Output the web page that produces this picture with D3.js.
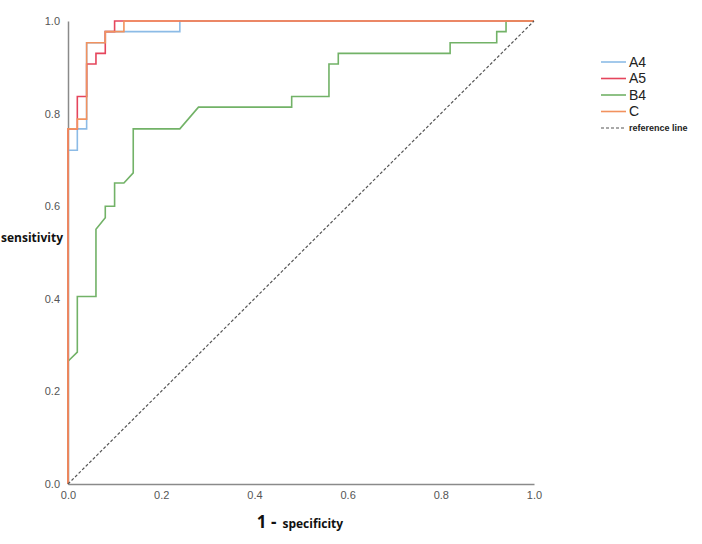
<!DOCTYPE html>
<html>
<head>
<meta charset="utf-8">
<script src="https://cdn.jsdelivr.net/npm/d3@7"></script>
<style>
  body { margin: 0; background: #fff; }
  svg { font-family: Arial, "Liberation Sans", sans-serif; }
</style>
</head>
<body>
<div id="chart"></div>
<script>
// ROC points (1 - specificity, sensitivity)
var a4Fpr  = [0, 0,     0.02,  0.02,  0.04,  0.04,  0.08,  0.08,  0.24,  0.24, 1];
var a4Tpr  = [0, 0.721, 0.721, 0.767, 0.767, 0.953, 0.953, 0.977, 0.977, 1,    1];

var a5Fpr  = [0, 0,     0.02,  0.02,  0.04,  0.04,  0.06,  0.06, 0.08, 0.08,  0.10,  0.10, 1];
var a5Tpr  = [0, 0.767, 0.767, 0.837, 0.837, 0.907, 0.907, 0.93, 0.93, 0.977, 0.977, 1,    1];

var b4Fpr  = [0, 0,     0.02,  0.02,  0.06,  0.06, 0.08,  0.08, 0.10, 0.10, 0.12, 0.14,  0.14,  0.24,  0.28,  0.48,  0.48,  0.56,  0.56,  0.58,  0.58, 0.82, 0.82,  0.92,  0.92,  0.94,  0.94, 1];
var b4Tpr  = [0, 0.265, 0.285, 0.405, 0.405, 0.55, 0.575, 0.60, 0.60, 0.65, 0.65, 0.672, 0.767, 0.767, 0.814, 0.814, 0.837, 0.837, 0.907, 0.907, 0.93, 0.93, 0.953, 0.953, 0.977, 0.977, 1,    1];

var cFpr   = [0, 0,     0.02,  0.02,  0.04,  0.04,  0.08,  0.08,  0.12,  0.12, 1];
var cTpr   = [0, 0.767, 0.767, 0.788, 0.788, 0.953, 0.953, 0.977, 0.977, 1,    1];

var seriesNames = ["A4", "A5", "B4", "C"];
var tickValues = [0, 0.2, 0.4, 0.6, 0.8, 1.0];

var colors = { A4: "#8cbbe6", A5: "#e5455c", B4: "#72b267", C: "#f2925e" };

var w = 702, h = 544;
var svg = d3.select("#chart").append("svg")
  .attr("width", w)
  .attr("height", h);

var x = d3.scaleLinear().domain([0, 1]).range([68, 534]);
var y = d3.scaleLinear().domain([0, 1]).range([484, 21]);

// axes (no tick marks, just the gray line and labels)
var xAxis = svg.append("g")
  .attr("transform", "translate(0," + y(0) + ")")
  .call(d3.axisBottom(x).tickValues(tickValues).tickFormat(d3.format(".1f")).tickSize(0).tickPadding(7));
var yAxis = svg.append("g")
  .attr("transform", "translate(" + x(0) + ",0)")
  .call(d3.axisLeft(y).tickValues(tickValues).tickFormat(d3.format(".1f")).tickSize(0).tickPadding(8));

[xAxis, yAxis].forEach(function(ax) {
  ax.select(".domain").attr("stroke", "#8a8a8a").attr("stroke-width", 1.5);
  ax.selectAll("text").attr("fill", "#555").style("font-size", "11px").style("font-family", "Arial, sans-serif");
});

// build series objects from the arrays (drawing order: C ends up on top)
var series = [
  { name: "A4", fpr: a4Fpr, tpr: a4Tpr },
  { name: "B4", fpr: b4Fpr, tpr: b4Tpr },
  { name: "A5", fpr: a5Fpr, tpr: a5Tpr },
  { name: "C",  fpr: cFpr,  tpr: cTpr }
];

var line = d3.line()
  .x(function(d) { return x(d[0]); })
  .y(function(d) { return y(d[1]); });

svg.selectAll(".roc")
  .data(series)
  .enter()
  .append("path")
    .attr("class", "roc")
    .attr("fill", "none")
    .attr("stroke", function(d) { return colors[d.name]; })
    .attr("stroke-width", 1.6)
    .attr("d", function(d) {
      return line(d.fpr.map(function(v, i) { return [v, d.tpr[i]]; }));
    });

// reference line
svg.append("path")
  .attr("fill", "none")
  .attr("stroke", "#555")
  .attr("stroke-width", 1.2)
  .attr("stroke-dasharray", "3,2")
  .attr("d", line([[0, 0], [1, 1]]));

// axis titles
svg.append("text")
  .attr("x", 1)
  .attr("y", 242)
  .attr("font-weight", "bold")
  .style("font-size", "12px")
  .attr("fill", "#111")
  .style("font-family", "'Open Sans', 'DejaVu Sans', sans-serif")
  .text("sensitivity");

var xTitle = svg.append("text")
  .attr("x", 300)
  .attr("y", 528)
  .attr("text-anchor", "middle")
  .attr("font-weight", "bold")
  .attr("fill", "#111")
  .style("font-family", "'Open Sans', 'DejaVu Sans', sans-serif");
xTitle.append("tspan").style("font-size", "17px").text("1 -");
xTitle.append("tspan").style("font-size", "12px").attr("dx", 6).text("specificity");

// legend
var legendItems = seriesNames.concat(["reference line"]);
var legendY = d3.scalePoint().domain(legendItems).range([62, 128]);

var legend = svg.selectAll(".legend-item")
  .data(legendItems)
  .enter()
  .append("g")
    .attr("class", "legend-item")
    .attr("transform", function(d) { return "translate(601," + legendY(d) + ")"; });

legend.append("line")
  .attr("x1", 0)
  .attr("x2", 25)
  .attr("stroke", function(d) { return colors[d] || "#555"; })
  .attr("stroke-width", function(d) { return colors[d] ? 1.6 : 1.2; })
  .attr("stroke-dasharray", function(d) { return colors[d] ? null : "3,2"; });

legend.append("text")
  .attr("x", 28)
  .attr("dy", "0.35em")
  .attr("fill", "#222")
  .attr("font-weight", function(d) { return colors[d] ? "normal" : "bold"; })
  .style("font-size", function(d) { return colors[d] ? "14px" : "9px"; })
  .style("font-family", "Arial, 'Liberation Sans', sans-serif")
  .text(function(d) { return d; });
</script>
</body>
</html>
